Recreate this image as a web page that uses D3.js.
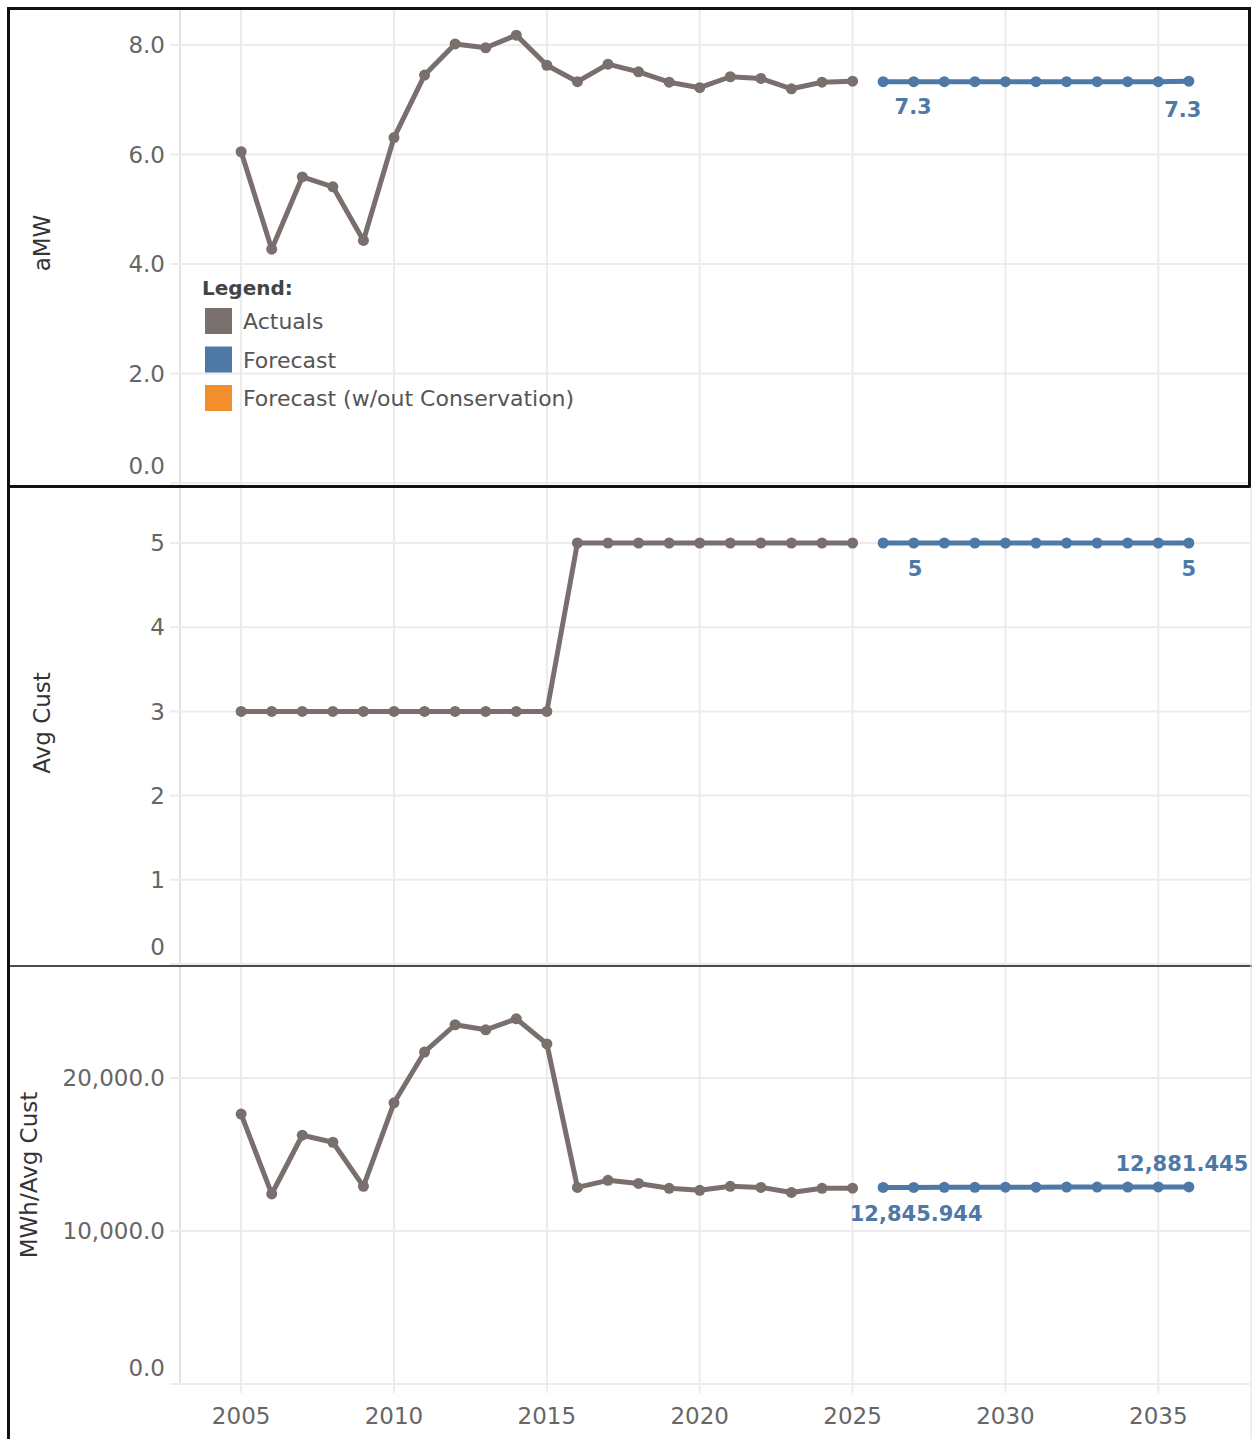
<!DOCTYPE html>
<html><head><meta charset="utf-8">
<script src="https://cdn.jsdelivr.net/npm/d3@7"></script>
<style>
html,body{margin:0;padding:0;background:#fff;}
svg{display:block;font-family:"DejaVu Sans",sans-serif;}
</style></head>
<body>
<svg id="chart" width="1252" height="1439"></svg>
<script>
// ---- data ----
const actualYears = [2005,2006,2007,2008,2009,2010,2011,2012,2013,2014,2015,2016,2017,2018,2019,2020,2021,2022,2023,2024,2025];
const forecastYears = [2026,2027,2028,2029,2030,2031,2032,2033,2034,2035,2036];

const aMWActual = [6.05,4.27,5.59,5.41,4.43,6.31,7.45,8.02,7.95,8.18,7.63,7.33,7.65,7.51,7.32,7.22,7.42,7.39,7.20,7.32,7.34];
const aMWForecast = [7.33,7.33,7.33,7.33,7.33,7.33,7.33,7.33,7.33,7.33,7.34];

const custActual = [3,3,3,3,3,3,3,3,3,3,3,5,5,5,5,5,5,5,5,5,5];
const custForecast = [5,5,5,5,5,5,5,5,5,5,5];

const mwhActual = [17640,12420,16260,15800,12920,18380,21700,23480,23150,23870,22230,12850,13310,13110,12790,12660,12920,12850,12520,12790,12800];
const mwhForecast = [12845.944,12851,12858,12855,12862,12866,12870,12868,12874,12878,12881.445];

const xTicks = [2005,2010,2015,2020,2025,2030,2035];
const aMWTicks = [0,2,4,6,8];
const custTicks = [0,1,2,3,4,5];
const mwhTicks = [0,10000,20000];

const legendItems = ["Actuals","Forecast","Forecast (w/out Conservation)"];
const legendColors = ["#79706e","#4e79a7","#f28e2b"];

// ---- layout ----
const svg = d3.select("#chart");
const plotLeft = 180, plotRight = 1250;
const x = d3.scaleLinear().domain([2003,2038]).range([plotLeft, plotRight]);
const cActual = "#79706e", cFore = "#4e79a7", gridC = "#ececec";

const panels = [
  {top:9, bottom:485, y:d3.scaleLinear().domain([0,8]).range([483,45]), ticks:aMWTicks, fmt:d3.format(".1f"),
   title:"aMW", titleX:50, titleY:243, act:aMWActual, fc:aMWForecast, lblFmt:d3.format(".1f"),
   labels:[{i:0,dx:30,dy:32},{i:10,dx:-6,dy:36}]},
  {top:488, bottom:965, y:d3.scaleLinear().domain([0,5]).range([964,543]), ticks:custTicks, fmt:d3.format("d"),
   title:"Avg Cust", titleX:50, titleY:723, act:custActual, fc:custForecast, lblFmt:d3.format("d"),
   labels:[{i:0,dx:32,dy:33},{i:10,dx:0,dy:33}]},
  {top:967, bottom:1439, y:d3.scaleLinear().domain([0,20000]).range([1384,1078]), ticks:mwhTicks, fmt:d3.format(",.1f"),
   title:"MWh/Avg Cust", titleX:37, titleY:1175, act:mwhActual, fc:mwhForecast, lblFmt:d3.format(",.3f"),
   labels:[{i:0,dx:33,dy:34},{i:10,dx:-7,dy:-16}]}
];

panels.forEach((p,pi)=>{
  const g = svg.append("g");
  const defsId = "clip"+pi;
  svg.append("clipPath").attr("id",defsId).append("rect")
     .attr("x",plotLeft-12).attr("y",p.top).attr("width",plotRight-plotLeft+14).attr("height",p.bottom-p.top);
  const grid = g.append("g").attr("clip-path",`url(#${defsId})`);
  // vertical gridlines
  grid.selectAll("line.vx").data(xTicks).join("line")
    .attr("x1",d=>x(d)).attr("x2",d=>x(d)).attr("y1",p.top).attr("y2",pi===2?1393:p.bottom)
    .attr("stroke",gridC).attr("stroke-width",2);
  grid.append("line").attr("x1",plotLeft).attr("x2",plotLeft).attr("y1",p.top).attr("y2",pi===2?1384:p.bottom)
    .attr("stroke","#e2e2e2").attr("stroke-width",2);
  // horizontal gridlines
  grid.selectAll("line.hy").data(p.ticks).join("line")
    .attr("x1",plotLeft-10).attr("x2",plotRight).attr("y1",d=>p.y(d)).attr("y2",d=>p.y(d))
    .attr("stroke",gridC).attr("stroke-width",2);
  // tick labels
  g.selectAll("text.tk").data(p.ticks).join("text")
    .attr("x",165).attr("y",d=>p.y(d) - (d===0?(pi===2?16:17):0)).attr("dy","0.36em")
    .attr("text-anchor","end").attr("font-size",23).attr("fill","#666").text(p.fmt);
  // axis title
  g.append("text").attr("transform",`translate(${p.titleX},${p.titleY}) rotate(-90)`)
    .attr("text-anchor","middle").attr("font-size",23).attr("fill","#333").text(p.title);
  // lines
  const lineA = d3.line().x((d,i)=>x(actualYears[i])).y(d=>p.y(d));
  const lineF = d3.line().x((d,i)=>x(forecastYears[i])).y(d=>p.y(d));
  g.append("path").attr("d",lineA(p.act)).attr("fill","none").attr("stroke",cActual).attr("stroke-width",5).attr("stroke-linejoin","round");
  g.append("path").attr("d",lineF(p.fc)).attr("fill","none").attr("stroke",cFore).attr("stroke-width",5).attr("stroke-linejoin","round");
  g.selectAll("circle.a").data(p.act).join("circle").attr("cx",(d,i)=>x(actualYears[i])).attr("cy",d=>p.y(d)).attr("r",5.5).attr("fill",cActual);
  g.selectAll("circle.f").data(p.fc).join("circle").attr("cx",(d,i)=>x(forecastYears[i])).attr("cy",d=>p.y(d)).attr("r",5.5).attr("fill",cFore);
  // labels
  p.labels.forEach(l=>{
    g.append("text").attr("x",x(forecastYears[l.i])+l.dx).attr("y",p.y(p.fc[l.i])+l.dy)
      .attr("text-anchor","middle").attr("font-size",21).attr("font-weight","bold").attr("fill",cFore)
      .text(p.lblFmt(p.fc[l.i]));
  });
});

// x axis labels
svg.selectAll("text.xt").data(xTicks).join("text")
  .attr("x",d=>x(d)).attr("y",1424).attr("text-anchor","middle").attr("font-size",23).attr("fill","#666").text(d=>d);

// legend
const lg = svg.append("g");
lg.append("text").attr("x",202).attr("y",295).attr("font-size",20).attr("font-weight","bold").attr("fill","#444").text("Legend:");
legendItems.forEach((t,i)=>{
  lg.append("rect").attr("x",205).attr("y",308+i*38.5).attr("width",27).attr("height",26).attr("fill",legendColors[i]);
  lg.append("text").attr("x",243).attr("y",329+i*38.5).attr("font-size",22).attr("fill","#555").text(t);
});

// borders
svg.append("rect").attr("x",8.5).attr("y",8.5).attr("width",1241).attr("height",478).attr("fill","none").attr("stroke","#111").attr("stroke-width",3);
svg.append("line").attr("x1",8.5).attr("x2",8.5).attr("y1",486).attr("y2",1439).attr("stroke","#111").attr("stroke-width",3);
svg.append("line").attr("x1",8).attr("x2",1252).attr("y1",966).attr("y2",966).attr("stroke","#111").attr("stroke-width",1.5);
svg.append("line").attr("x1",1251).attr("x2",1251).attr("y1",487).attr("y2",1439).attr("stroke","#ddd").attr("stroke-width",1);
</script>
</body></html>
